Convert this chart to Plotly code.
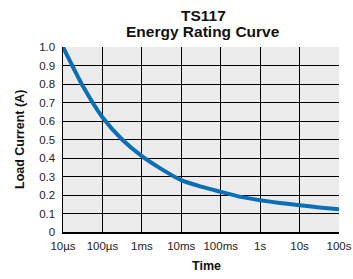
import plotly.graph_objects as go

time_s = [1e-5, 3.16e-5, 1e-4, 3.16e-4, 1e-3, 3.16e-3, 1e-2, 3.16e-2, 1e-1, 3.16e-1, 1, 3.16, 10, 31.6, 100]
current_a = [1.0, 0.79, 0.62, 0.50, 0.41, 0.34, 0.28, 0.245, 0.217, 0.19, 0.172, 0.157, 0.145, 0.133, 0.123]

x_tickvals = [1e-5, 1e-4, 1e-3, 1e-2, 1e-1, 1, 10, 100]
x_ticktext = ["10µs", "100µs", "1ms", "10ms", "100ms", "1s", "10s", "100s"]
y_tickvals = [0, 0.1, 0.2, 0.3, 0.4, 0.5, 0.6, 0.7, 0.8, 0.9, 1.0]
y_ticktext = ["0", "0.1", "0.2", "0.3", "0.4", "0.5", "0.6", "0.7", "0.8", "0.9", "1.0"]

W, H = 353, 279
L, R, T, B = 63, 14, 47, 47
PW, PH = W - L - R, H - T - B


def py(ypx):
    return (H - B - ypx) / PH


def px(xpx):
    return (xpx - L) / PW


fig = go.Figure()
fig.add_trace(go.Scatter(
    x=time_s, y=current_a, mode="lines",
    line=dict(color="#0a6fb4", width=4, shape="spline", smoothing=0.6),
    hoverinfo="skip", showlegend=False,
))

font = "Liberation Sans, Arial, sans-serif"
fig.update_layout(
    width=W, height=H,
    margin=dict(l=L, r=R, t=T, b=B, autoexpand=False),
    paper_bgcolor="white",
    plot_bgcolor="#ebebeb",
    font=dict(family=font, size=11.5, color="#222"),
    xaxis=dict(
        type="log", range=[-5, 2],
        tickvals=x_tickvals, ticktext=x_ticktext,
        showgrid=True, gridcolor="black", gridwidth=1,
        showline=True, linecolor="black", linewidth=1.5,
        zeroline=False, ticks="outside", ticklen=3, tickcolor="rgba(0,0,0,0)",
        tickfont=dict(size=11.5, color="#222"),
        automargin=False, fixedrange=True,
    ),
    yaxis=dict(
        range=[0, 1.0],
        tickvals=y_tickvals, ticktext=y_ticktext,
        showgrid=True, gridcolor="black", gridwidth=1,
        showline=True, linecolor="black", linewidth=1.5,
        zeroline=False, ticks="outside", ticklen=4, tickcolor="rgba(0,0,0,0)",
        tickfont=dict(size=11.5, color="#222"),
        automargin=False, fixedrange=True,
    ),
    annotations=[
        dict(text="<b>TS117</b>", xref="paper", yref="paper",
             x=px(203), y=py(15), xanchor="center", yanchor="middle",
             showarrow=False, font=dict(family=font, size=15.5, color="#111")),
        dict(text="<b>Energy Rating Curve</b>", xref="paper", yref="paper",
             x=px(203), y=py(31), xanchor="center", yanchor="middle",
             showarrow=False, font=dict(family=font, size=15.5, color="#111")),
        dict(text="<b>Time</b>", xref="paper", yref="paper",
             x=px(206), y=py(266), xanchor="center", yanchor="middle",
             showarrow=False, font=dict(family=font, size=12.5, color="#111")),
        dict(text="<b>Load Current (A)</b>", xref="paper", yref="paper",
             x=px(20), y=py(140), xanchor="center", yanchor="middle", textangle=-90,
             showarrow=False, font=dict(family=font, size=12.5, color="#111")),
    ],
)

fig.write_html(
    "out.html",
    config={"displayModeBar": False, "staticPlot": True},
    post_script="document.body.style.margin='0';document.body.style.overflow='hidden';",
)
